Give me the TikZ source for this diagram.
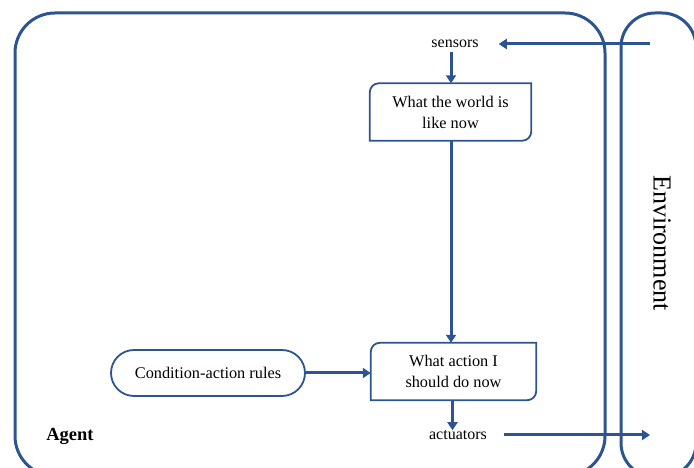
\documentclass[tikz,border=0pt]{standalone}
\usepackage{fontspec}
\setmainfont{Liberation Serif}
\usetikzlibrary{arrows.meta,calc,shapes.misc}
\definecolor{ablue}{RGB}{44,84,145}
\tikzset{
  frame/.style={draw=ablue,line width=3pt,rounded corners=#1},
  conn/.style={draw=ablue,line width=3pt,-{Triangle[length=8pt,width=10pt]}},
  lbl/.style={font=\fontsize{16}{20}\selectfont,inner sep=2pt},
  boxtxt/.style={font=\fontsize{16.3}{21}\selectfont,align=center,minimum width=#1,minimum height=57pt,inner sep=0pt},
  diagbox/.style={draw=ablue,line width=1.8pt},
  pill/.style={draw=ablue,line width=1.8pt,rounded rectangle,minimum width=194pt,minimum height=46pt,font=\fontsize{16.3}{20}\selectfont,inner sep=0pt}
}
\newcommand{\diagcorner}[1]{%
  \draw[diagbox] ($(#1.north west)+(0,-9pt)$) arc[start angle=180,end angle=90,radius=9pt]
    -- (#1.north east) -- ($(#1.south east)+(0,9pt)$)
    arc[start angle=0,end angle=-90,radius=9pt] -- (#1.south west) -- cycle;}
\begin{document}
\begin{tikzpicture}[x=1pt,y=1pt]
\useasboundingbox (0,0) rectangle (694,468);
\begin{scope}
\clip (0,0) rectangle (694,468);
\draw[frame=40pt] (15,-8) rectangle (605,455);
\draw[frame=34pt] (621,-9) rectangle (696,455);
\end{scope}
\node[lbl] (sensors) at (455,424) {sensors};
\node[boxtxt=161pt] (world) at (450.5,356) {What the world is\\like now};
\node[boxtxt=165pt] (action) at (453.5,96.5) {What action I\\should do now};
\node[lbl] (actuators) at (458,33) {actuators};
\node[pill] (rules) at (208,95) {Condition-action rules};
\node[font=\fontsize{18.5}{22}\selectfont\bfseries] (agent) at (70,32) {Agent};
\node[font=\fontsize{26}{30}\selectfont,rotate=-90] (env) at (662,225) {Environment};
\diagcorner{world}
\diagcorner{action}
\coordinate (sin) at (650,424);
\coordinate (aout) at (650,33);
\draw[conn] (sin) -- ($(sensors.east)+(18,0)$);
\draw[conn] ($(sensors.south)+(-4,-2)$) -- ($(world.north)+(0.5,0)$);
\draw[conn] ($(world.south)+(0.5,0)$) -- ($(action.north)+(-2.5,0)$);
\draw[conn] (rules.east) -- (rules.east -| action.west);
\draw[conn] ($(action.south)+(-1,0)$) -- ($(actuators.north)+(-5.5,-2)$);
\draw[conn] ($(actuators.east)+(15,0)$) -- (aout);
\end{tikzpicture}
\end{document}
